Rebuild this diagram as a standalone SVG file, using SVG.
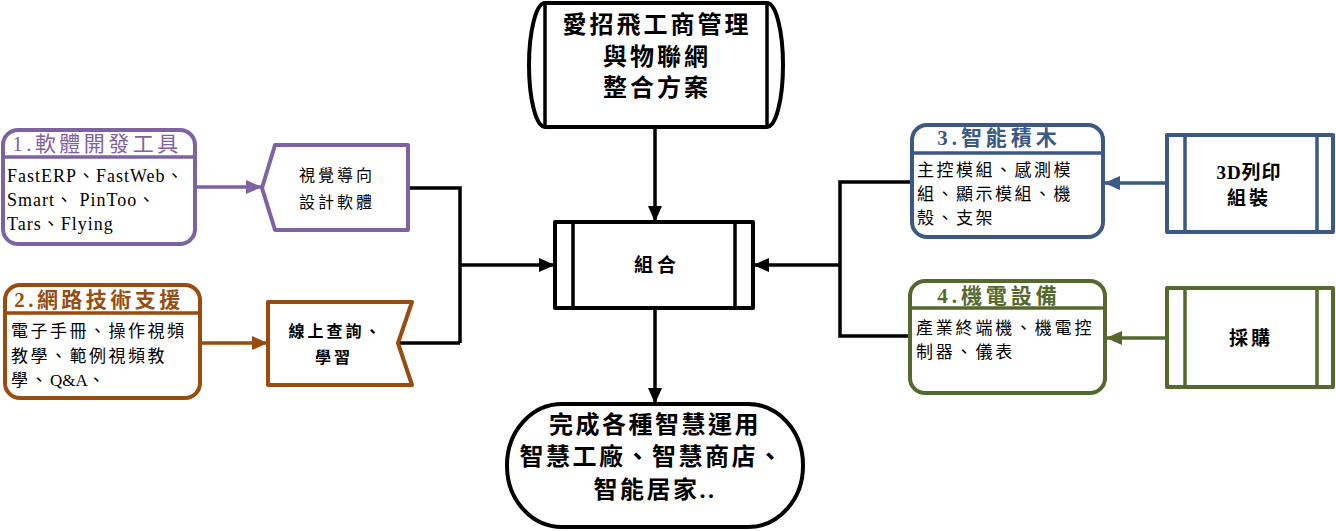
<svg xmlns="http://www.w3.org/2000/svg" width="1336" height="531" viewBox="0 0 1336 531">
<style>
.t{font-family:"Liberation Serif","Noto Sans CJK TC",serif;fill:#000;dominant-baseline:central}
.c{text-anchor:middle}
.b{font-weight:bold}
.body{font-size:17px;letter-spacing:2.5px}
.hd{font-size:21px;letter-spacing:3.5px}
.ln{fill:none;stroke-width:3.5}
.nd{fill:#fff;stroke-width:4;stroke-linejoin:round}
</style>
<defs>
<marker id="mk" viewBox="0 0 16 14" refX="16" refY="7" markerWidth="16" markerHeight="14" markerUnits="userSpaceOnUse" orient="auto"><path d="M0,0 L16,7 L0,14 z" fill="#000"/></marker>
<marker id="mp" viewBox="0 0 16 14" refX="16" refY="7" markerWidth="16" markerHeight="14" markerUnits="userSpaceOnUse" orient="auto"><path d="M0,0 L16,7 L0,14 z" fill="#7F62A1"/></marker>
<marker id="mbr" viewBox="0 0 16 14" refX="16" refY="7" markerWidth="16" markerHeight="14" markerUnits="userSpaceOnUse" orient="auto"><path d="M0,0 L16,7 L0,14 z" fill="#9A4B0E"/></marker>
<marker id="mbl" viewBox="0 0 16 14" refX="16" refY="7" markerWidth="16" markerHeight="14" markerUnits="userSpaceOnUse" orient="auto"><path d="M0,0 L16,7 L0,14 z" fill="#3A5A85"/></marker>
<marker id="mg" viewBox="0 0 16 14" refX="16" refY="7" markerWidth="16" markerHeight="14" markerUnits="userSpaceOnUse" orient="auto"><path d="M0,0 L16,7 L0,14 z" fill="#55692E"/></marker>
</defs>

<g id="connectors">
<path class="ln" stroke="#7F62A1" d="M195,187 H262" marker-end="url(#mp)"/>
<path class="ln" stroke="#9A4B0E" d="M200,343 H268" marker-end="url(#mbr)"/>
<path class="ln" stroke="#000" d="M408,188 H460 V343 M398,343 H460"/>
<path class="ln" stroke="#000" d="M460,265 H555" marker-end="url(#mk)"/>
<path class="ln" stroke="#000" d="M655,127 V222" marker-end="url(#mk)"/>
<path class="ln" stroke="#000" d="M655,308 V404" marker-end="url(#mk)"/>
<path class="ln" stroke="#000" d="M912,182 H840 V336 H910"/>
<path class="ln" stroke="#000" d="M840,265 H753" marker-end="url(#mk)"/>
<path class="ln" stroke="#3A5A85" d="M1167,183 H1104" marker-end="url(#mbl)"/>
<path class="ln" stroke="#55692E" d="M1167,338 H1106" marker-end="url(#mg)"/>
</g>

<g id="top">
<path class="nd" stroke="#000" d="M545,3 H767 A16,62 0 0 1 767,127 H545 A16,62 0 0 1 545,3 Z"/>
<path class="ln" stroke="#000" d="M545,3 V127 M767,3 V127"/>
<text class="t c b" style="font-size:24px;letter-spacing:3px" x="657" y="25">愛招飛工商管理</text>
<text class="t c b" style="font-size:24px;letter-spacing:3px" x="657" y="57">與物聯網</text>
<text class="t c b" style="font-size:24px;letter-spacing:3px" x="657" y="88">整合方案</text>
</g>

<g id="box1">
<rect class="nd" stroke="#7F62A1" x="3" y="130" width="192" height="114" rx="15"/>
<path class="ln" stroke="#7F62A1" d="M3,157 H195"/>
<text class="t c hd" style="fill:#7F62A1" x="97" y="144">1.軟體開發工具</text>
<text class="t" style="font-size:18px;letter-spacing:1px" x="7" y="176">FastERP、FastWeb、</text>
<text class="t" style="font-size:18px;letter-spacing:1px" x="7" y="200">Smart、 PinToo、</text>
<text class="t" style="font-size:18px;letter-spacing:1px" x="7" y="224">Tars、Flying</text>
</g>

<g id="box2">
<rect class="nd" stroke="#9A4B0E" x="5" y="285" width="195" height="113" rx="15"/>
<path class="ln" stroke="#9A4B0E" d="M5,313 H200"/>
<text class="t c hd b" style="fill:#9A4B0E" x="99" y="300">2.網路技術支援</text>
<text class="t body" x="11" y="331">電子手冊、操作視頻</text>
<text class="t body" x="11" y="356">教學、範例視頻教</text>
<text class="t body" x="11" y="380">學、<tspan style="letter-spacing:0">Q&amp;A</tspan>、</text>
</g>

<g id="visual">
<path class="nd" stroke="#7F62A1" d="M275,145 H408 V230 H275 L262,188 Z"/>
<text class="t c" style="font-size:16px;letter-spacing:3px" x="337" y="175">視覺導向</text>
<text class="t c" style="font-size:16px;letter-spacing:3px" x="337" y="202">設計軟體</text>
</g>

<g id="online">
<path class="nd" stroke="#9A4B0E" d="M268,302 H412 L398,343 L412,385 H268 Z"/>
<text class="t c b" style="font-size:16px;letter-spacing:3px" x="336" y="331">線上查詢、</text>
<text class="t c b" style="font-size:16px;letter-spacing:3px" x="334" y="357">學習</text>
</g>

<g id="combine">
<rect class="nd" stroke="#000" x="555" y="222" width="198" height="86"/>
<path class="ln" stroke="#000" d="M573,222 V308 M735,222 V308"/>
<text class="t c b" style="font-size:19px;letter-spacing:4px" x="657" y="265">組合</text>
</g>

<g id="result">
<rect class="nd" stroke="#000" x="507" y="404" width="296" height="123" rx="55" ry="61"/>
<text class="t c b" style="font-size:24px;letter-spacing:2.5px" x="655" y="425">完成各種智慧運用</text>
<text class="t c b" style="font-size:24px;letter-spacing:2.5px" x="652" y="457">智慧工廠、智慧商店、</text>
<text class="t c b" style="font-size:24px;letter-spacing:2.5px" x="655" y="490">智能居家..</text>
</g>

<g id="box3">
<rect class="nd" stroke="#3A5A85" x="912" y="125" width="191" height="112" rx="15"/>
<path class="ln" stroke="#3A5A85" d="M912,153 H1103"/>
<text class="t c hd b" style="fill:#3A5A85;letter-spacing:4px" x="999" y="138">3.智能積木</text>
<text class="t body" x="917" y="170">主控模組、感測模</text>
<text class="t body" x="917" y="194">組、顯示模組、機</text>
<text class="t body" x="917" y="218">殼、支架</text>
</g>

<g id="box4">
<rect class="nd" stroke="#55692E" x="910" y="281" width="195" height="112" rx="15"/>
<path class="ln" stroke="#55692E" d="M910,308 H1105"/>
<text class="t c hd b" style="fill:#55692E;letter-spacing:4px" x="999" y="296">4.機電設備</text>
<text class="t body" style="letter-spacing:2.8px" x="916" y="328">產業終端機、機電控</text>
<text class="t body" style="letter-spacing:2.8px" x="916" y="352">制器、儀表</text>
</g>

<g id="print3d">
<rect class="nd" stroke="#3A5A85" x="1167" y="135" width="166" height="97"/>
<path class="ln" stroke="#3A5A85" d="M1185,135 V232 M1317,135 V232"/>
<text class="t c b" style="font-size:19px;letter-spacing:1px" x="1249" y="172">3D列印</text>
<text class="t c b" style="font-size:19px;letter-spacing:3px" x="1249" y="198">組裝</text>
</g>

<g id="purchase">
<rect class="nd" stroke="#55692E" x="1167" y="288" width="166" height="99"/>
<path class="ln" stroke="#55692E" d="M1185,288 V387 M1317,288 V387"/>
<text class="t c b" style="font-size:19px;letter-spacing:3px" x="1251" y="338">採購</text>
</g>
</svg>
